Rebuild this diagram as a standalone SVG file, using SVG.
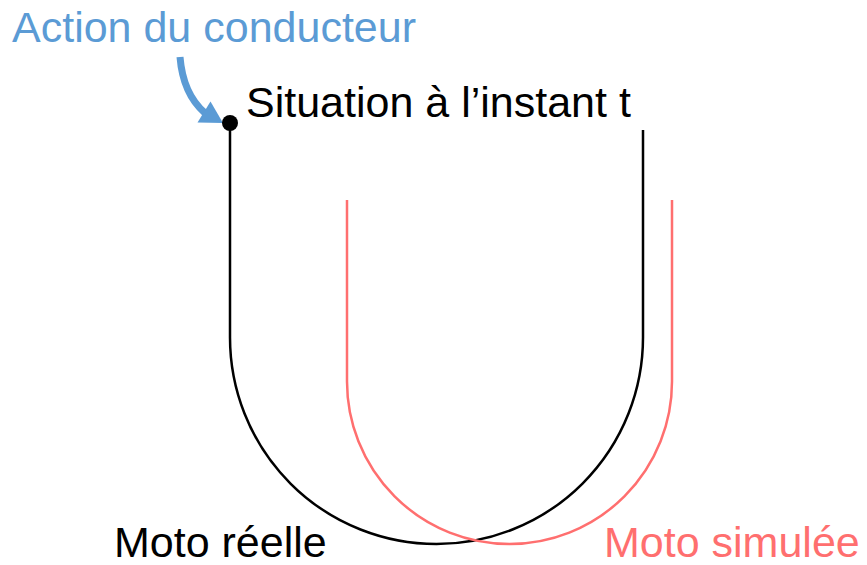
<svg xmlns="http://www.w3.org/2000/svg" width="867" height="565" viewBox="0 0 867 565">
<style>
text{font-family:"Liberation Sans",Arial,sans-serif;font-size:43px}
.blk{fill:#000}
.blue{fill:#5B9BD5}
.red{fill:#FF6F6F}
.track{fill:none;stroke-width:2.5}
</style>
<rect width="867" height="565" fill="#fff"/>
<g id="connectors">
<path id="reel" class="track" stroke="#000" d="M230,123 V337.5 A206.5,206.5 0 0 0 643,337.5 V130"/>
<path id="simule" class="track" stroke="#FF6F6F" d="M347,200 V381.5 A162.5,162.5 0 0 0 672,381.5 V200"/>
<g id="action-arrow" fill="#5B9BD5">
<path fill="none" stroke="#5B9BD5" stroke-width="7" d="M180,57 Q183,94 205,113"/>
<polygon points="223,123 197.5,122.5 210.5,101.5"/>
</g>
</g>
<g id="action"><text class="blue" x="12" y="42">Action du conducteur</text></g>
<g id="situation">
<circle cx="230" cy="123" r="8" fill="#000"/>
<text class="blk" x="246" y="117">Situation à l’instant t</text>
</g>
<g id="moto-reelle"><text class="blk" x="114" y="557">Moto réelle</text></g>
<g id="moto-simulee"><text class="red" x="604" y="557">Moto simulée</text></g>
</svg>
